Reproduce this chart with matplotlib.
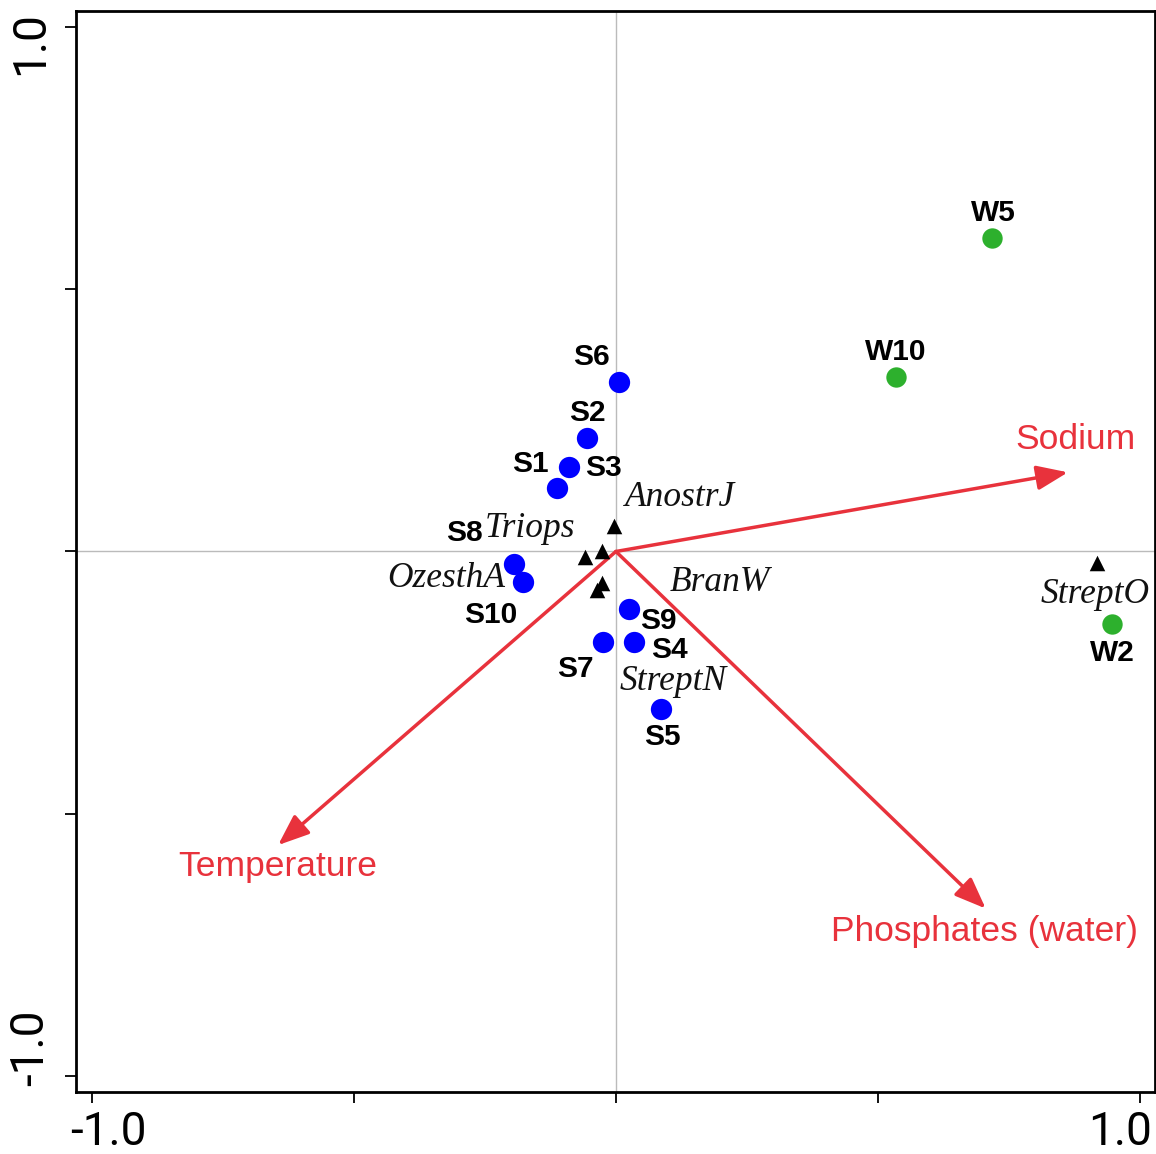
import matplotlib
matplotlib.use("Agg")
import matplotlib.pyplot as plt
from matplotlib.transforms import ScaledTranslation

# Site scores (axis 1, axis 2)
spring_sites = ["S1", "S2", "S3", "S4", "S5", "S6", "S7", "S8", "S9", "S10"]
spring_x = [-0.113, -0.055, -0.090, 0.034, 0.086, 0.006, -0.025, -0.195, 0.025, -0.177]
spring_y = [0.121, 0.216, 0.161, -0.173, -0.300, 0.323, -0.173, -0.024, -0.110, -0.058]

winter_sites = ["W2", "W5", "W10"]
winter_x = [0.948, 0.718, 0.534]
winter_y = [-0.138, 0.598, 0.333]

# Species scores
species = ["AnostrJ", "Triops", "OzesthA", "BranW", "StreptN", "StreptO"]
species_x = [-0.004, -0.059, -0.027, -0.027, -0.036, 0.918]
species_y = [0.049, -0.010, 0.001, -0.060, -0.073, -0.022]

# Environmental variable vectors
env_vars = ["Sodium", "Temperature", "Phosphates (water)"]
env_x = [0.863, -0.645, 0.706]
env_y = [0.151, -0.560, -0.681]

# Axis ticks
tick_vals = [-1.0, -0.5, 0.0, 0.5, 1.0]
tick_labels = ["-1.0", "", "", "", "1.0"]

# Label offsets in pixels (right, up)
spring_off = {"S1": (-26, 24), "S2": (0, 25), "S3": (35, -1), "S4": (36, -8),
              "S5": (1, -28), "S6": (-28, 25), "S7": (-27, -27), "S8": (-49, 31),
              "S9": (29, -12), "S10": (-33, -33)}
winter_off = {"W2": (0, -29), "W5": (1, 25), "W10": (0, 25)}
species_off = {"AnostrJ": (66, 28), "Triops": (-55, 28), "OzesthA": (-156, -28),
               "BranW": (118, 0), "StreptN": (76, -92), "StreptO": (-2, -31)}
env_off = {"Sodium": (8, 33), "Temperature": (0, -21), "Phosphates (water)": (-1, -23)}

RED = "#E8323C"
sans = ["Liberation Sans", "DejaVu Sans"]
serif = ["Liberation Serif", "DejaVu Serif"]
tickfont = ["Roboto", "Liberation Sans", "DejaVu Sans"]
plt.rcParams["font.family"] = sans

fig = plt.figure(figsize=(11.56, 11.54), dpi=100)
ax = fig.add_axes([0.0657, 0.0537, 0.9333, 0.9368])
ax.set_xlim(-1.031, 1.029)
ax.set_ylim(-1.031, 1.031)

ax.axhline(0, color="#BBBBBB", lw=1.0, zorder=0)
ax.axvline(0, color="#BBBBBB", lw=1.0, zorder=0)

for name, x, y in zip(env_vars, env_x, env_y):
    ax.annotate("", xy=(x, y), xytext=(0, 0),
                arrowprops=dict(arrowstyle="-|>,head_length=1.9,head_width=0.75",
                                color=RED, lw=2.5, shrinkA=0, shrinkB=0),
                zorder=2)
    ax.annotate(name, xy=(x, y), xytext=env_off[name], textcoords="offset pixels",
                ha="center", va="center", color=RED, fontsize=25.5, family=sans)

ax.scatter(spring_x, spring_y, s=235, color="#0000FF", zorder=3, linewidths=0)
ax.scatter(winter_x, winter_y, s=215, color="#2DB02D", zorder=3, linewidths=0)
ax.scatter(species_x, species_y, s=125, marker="^", color="black", zorder=3, linewidths=0)

for name, x, y in zip(spring_sites, spring_x, spring_y):
    ax.annotate(name, xy=(x, y), xytext=spring_off[name], textcoords="offset pixels",
                ha="center", va="center", fontsize=21.5, fontweight="bold", family=sans)
for name, x, y in zip(winter_sites, winter_x, winter_y):
    ax.annotate(name, xy=(x, y), xytext=winter_off[name], textcoords="offset pixels",
                ha="center", va="center", fontsize=21.5, fontweight="bold", family=sans)
for name, x, y in zip(species, species_x, species_y):
    ax.annotate(name, xy=(x, y), xytext=species_off[name], textcoords="offset pixels",
                ha="center", va="center", fontsize=25.5, style="italic", family=serif,
                color="#111111")

ax.set_xticks(tick_vals)
ax.set_xticklabels(tick_labels)
ax.set_yticks(tick_vals)
ax.set_yticklabels(tick_labels, rotation=90, va="center")
ax.tick_params(axis="x", direction="out", length=8, width=1.3, labelsize=33, pad=5)
ax.tick_params(axis="y", direction="out", length=8, width=1.3, labelsize=33, pad=9)

# End labels sit slightly inward from their ticks
px = 1 / 100
shifts_x = [(16, 0), None, None, None, (-20, 0)]
shifts_y = [(0, 28), None, None, None, (0, -16)]
for lab, sh in zip(ax.get_xticklabels(), shifts_x):
    lab.set_fontfamily(tickfont)
    if sh:
        lab.set_transform(lab.get_transform() + ScaledTranslation(sh[0] * px, sh[1] * px, fig.dpi_scale_trans))
for lab, sh in zip(ax.get_yticklabels(), shifts_y):
    lab.set_fontfamily(tickfont)
    if sh:
        lab.set_transform(lab.get_transform() + ScaledTranslation(sh[0] * px, sh[1] * px, fig.dpi_scale_trans))

for sp in ax.spines.values():
    sp.set_linewidth(2)

fig.savefig("out.png", dpi=100, facecolor="white")
